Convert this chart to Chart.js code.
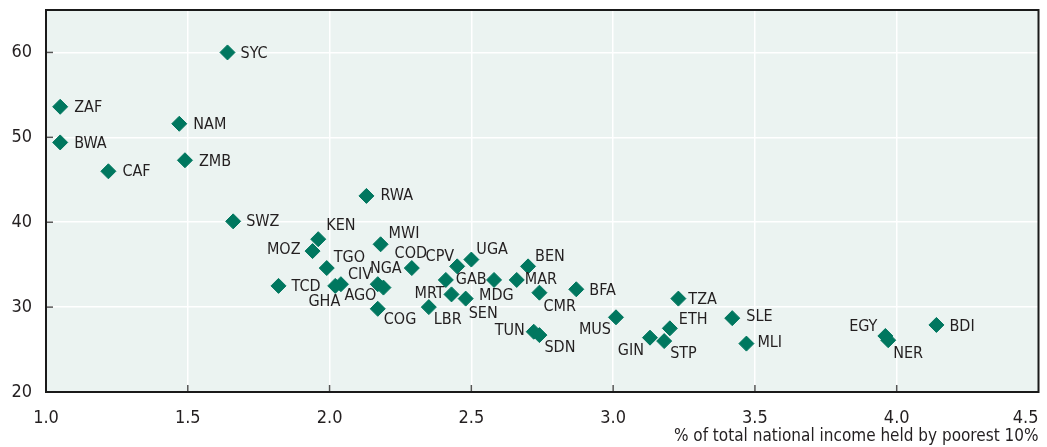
<!DOCTYPE html>
<html>
<head>
<meta charset="utf-8">
<script src="https://cdn.jsdelivr.net/npm/chart.js@4"></script>
<style>
  html, body { margin: 0; padding: 0; background: #ffffff; }
  #chart { display: block; }
</style>
</head>
<body>
<canvas id="chart" width="1047" height="447"></canvas>
<script>
// data
var countries = ['SYC', 'ZAF', 'BWA', 'NAM', 'ZMB', 'CAF', 'RWA', 'SWZ', 'KEN', 'MOZ',
                 'MWI', 'TGO', 'COD', 'CPV', 'UGA', 'BEN', 'GAB', 'MDG', 'MAR', 'NGA',
                 'AGO', 'CIV', 'GHA', 'TCD', 'MRT', 'SEN', 'LBR', 'COG', 'CMR', 'BFA',
                 'TUN', 'SDN', 'MUS', 'TZA', 'ETH', 'GIN', 'STP', 'SLE', 'MLI', 'EGY',
                 'NER', 'BDI'];
var poorestShare = [1.64, 1.05, 1.05, 1.47, 1.49, 1.22, 2.13, 1.66, 1.96, 1.94,
                    2.18, 1.99, 2.29, 2.45, 2.50, 2.70, 2.41, 2.58, 2.66, 2.17,
                    2.19, 2.04, 2.02, 1.82, 2.43, 2.48, 2.35, 2.17, 2.74, 2.87,
                    2.72, 2.74, 3.01, 3.23, 3.20, 3.13, 3.18, 3.42, 3.47, 3.96,
                    3.97, 4.14];
var yValues = [60.0, 53.6, 49.4, 51.6, 47.3, 46.0, 43.1, 40.1, 38.0, 36.6,
               37.4, 34.6, 34.6, 34.8, 35.6, 34.8, 33.2, 33.2, 33.2, 32.7,
               32.3, 32.7, 32.5, 32.5, 31.5, 31.0, 30.0, 29.8, 31.7, 32.1,
               27.1, 26.7, 28.8, 31.0, 27.5, 26.4, 26.0, 28.7, 25.7, 26.6,
               26.1, 27.9];
var xTickLabels = ['1.0', '1.5', '2.0', '2.5', '3.0', '3.5', '4.0', '4.5'];
var xTitle = '% of total national income held by poorest 10%';

// where each country code sits relative to its marker: [align, dx, dy]
var labelPlace = [
  ['left', 13, 1], ['left', 14, 1], ['left', 14, 1], ['left', 14, 1], ['left', 14, 2],
  ['left', 14, 1], ['left', 14, 0], ['left', 13, 0], ['left', 8, -13], ['right', -12, -1],
  ['left', 8, -10], ['left', 7, -10], ['center', -1, -14], ['right', -3, -10], ['left', 5, -10],
  ['left', 7, -10], ['left', 10, 0], ['left', -15, 16], ['left', 8, 0], ['center', 8, -15],
  ['right', -7, 8], ['left', 7, -9], ['right', 5, 16], ['left', 13, 1], ['right', -7, -1],
  ['left', 3, 15], ['left', 5, 13], ['left', 6, 11], ['left', 4, 14], ['left', 13, 2],
  ['right', -9, -1], ['left', 5, 13], ['right', -5, 13], ['left', 10, 1], ['left', 9, -8],
  ['right', -6, 13], ['left', 6, 13], ['left', 14, -1], ['left', 11, -1], ['right', -8, -9],
  ['left', 5, 14], ['left', 13, 2]
];

var FONT = '"Liberation Sans Narrow", "DejaVu Sans Condensed", "Roboto", sans-serif';
var TEXT = '#231f20';
var GREEN = '#00775f';

var points = poorestShare.map(function (x, i) { return { x: x, y: yValues[i] }; });

// light panel behind the plot
var panelBg = {
  id: 'panelBg',
  beforeDraw: function (chart) {
    var a = chart.chartArea, ctx = chart.ctx;
    ctx.save();
    ctx.fillStyle = '#ebf3f1';
    ctx.fillRect(a.left, a.top, a.right - a.left, a.bottom - a.top);
    ctx.restore();
  }
};

// country codes next to the markers
var pointLabels = {
  id: 'pointLabels',
  afterDatasetsDraw: function (chart) {
    var ctx = chart.ctx;
    var meta = chart.getDatasetMeta(0);
    ctx.save();
    ctx.font = '16px ' + FONT;
    ctx.fillStyle = TEXT;
    ctx.textBaseline = 'middle';
    meta.data.forEach(function (pt, i) {
      var p = labelPlace[i];
      ctx.textAlign = p[0];
      ctx.fillText(countries[i], pt.x + p[1], pt.y + p[2]);
    });
    ctx.restore();
  }
};

// frame, inward ticks and x tick labels
var frame = {
  id: 'frame',
  afterDraw: function (chart) {
    var a = chart.chartArea, ctx = chart.ctx;
    var xs = chart.scales.x, ys = chart.scales.y;
    ctx.save();
    ctx.strokeStyle = '#555555';
    ctx.lineWidth = 1.5;
    ys.ticks.forEach(function (t) {
      var py = ys.getPixelForValue(t.value);
      if (t.value <= 20) return;
      ctx.beginPath();
      ctx.moveTo(a.left, py);
      ctx.lineTo(a.left + 7, py);
      ctx.stroke();
    });
    xs.ticks.forEach(function (t) {
      var px = xs.getPixelForValue(t.value);
      if (t.value <= 1 || t.value >= 4.5) return;
      ctx.beginPath();
      ctx.moveTo(px, a.bottom);
      ctx.lineTo(px, a.bottom - 7);
      ctx.stroke();
    });
    ctx.strokeStyle = '#1a1a1a';
    ctx.lineWidth = 2;
    ctx.strokeRect(a.left, a.top, a.right - a.left, a.bottom - a.top);

    ctx.font = '18px ' + FONT;
    ctx.fillStyle = TEXT;
    ctx.textBaseline = 'alphabetic';
    xs.ticks.forEach(function (t, i) {
      var px = xs.getPixelForValue(t.value);
      ctx.textAlign = i === xs.ticks.length - 1 ? 'right' : 'center';
      if (i === xs.ticks.length - 1) px = a.right;
      ctx.fillText(xTickLabels[i], px, a.bottom + 31);
    });
    ctx.restore();
  }
};

new Chart(document.getElementById('chart'), {
  type: 'scatter',
  data: {
    datasets: [{
      data: points,
      pointStyle: 'rectRot',
      pointRadius: 7.5,
      pointHoverRadius: 7.5,
      backgroundColor: GREEN,
      borderColor: GREEN,
      borderWidth: 1
    }]
  },
  options: {
    responsive: false,
    animation: false,
    devicePixelRatio: 1,
    layout: { padding: { top: 10, right: 7, bottom: 0, left: 0 } },
    plugins: {
      legend: { display: false },
      tooltip: { enabled: false }
    },
    scales: {
      x: {
        type: 'linear',
        min: 1,
        max: 4.5,
        ticks: { stepSize: 0.5, display: false },
        grid: { color: '#ffffff', lineWidth: 1.5, drawTicks: false },
        border: { display: false },
        title: {
          display: true,
          text: xTitle,
          align: 'end',
          color: TEXT,
          font: { family: FONT, size: 17, lineHeight: 1 },
          padding: { top: 0, bottom: 1.5 }
        },
        afterFit: function (s) {
          s.height = 55;
          s.paddingLeft = 0;
          s.paddingRight = 0;
        }
      },
      y: {
        min: 20,
        max: 65,
        ticks: {
          stepSize: 10,
          includeBounds: false,
          padding: 14,
          color: TEXT,
          font: { family: FONT, size: 18 }
        },
        grid: { color: '#ffffff', lineWidth: 1.5, drawTicks: false },
        border: { display: false },
        afterFit: function (s) {
          s.width = 46;
          s.paddingTop = 0;
          s.paddingBottom = 0;
        }
      }
    }
  },
  plugins: [panelBg, pointLabels, frame]
});
</script>
</body>
</html>
